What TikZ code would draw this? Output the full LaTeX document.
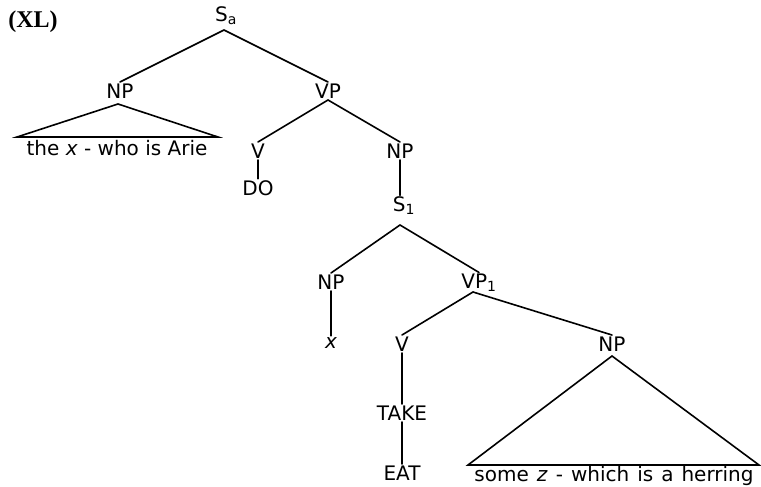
\documentclass[tikz,border=0pt]{standalone}
\usepackage{fontspec}
\setmainfont{Liberation Serif}
\setsansfont{DejaVu Sans}
\begin{document}
\begin{tikzpicture}[x=1pt,y=-1pt,
  lbl/.style={font=\sffamily\fontsize{20}{20}\selectfont, inner sep=1.5pt},
  edge/.style={line width=1.6pt, line cap=round},
  xl/.style={font=\rmfamily\bfseries\fontsize{24}{24}\selectfont, inner sep=0pt}]
\useasboundingbox (0,0) rectangle (761,487);
\node[xl] (XL) at (33,22) {(XL)};
\node[lbl] (Sa) at (226,16) {S\textsubscript{a}};
\node[lbl] (NPa) at (120,91) {NP};
\node[lbl] (VP) at (328,91) {VP};
\coordinate (t1a) at (118,104);
\coordinate (t1l) at (17,137);
\coordinate (t1r) at (218,137);
\node[lbl] (t1txt) at (117,148) {the \textit{x} - who is Arie};
\node[lbl] (V1) at (258,151) {V};
\node[lbl] (DO) at (258,188) {DO};
\node[lbl] (NPb) at (400,151) {NP};
\node[lbl] (S1) at (404,206) {S\textsubscript{1}};
\node[lbl] (NPc) at (331,282) {NP};
\node[lbl] (xx) at (331,343) {\textit{x}};
\node[lbl] (VP1) at (479,283) {VP\textsubscript{1}};
\node[lbl] (V2) at (402,344) {V};
\node[lbl] (TAKE) at (402,413) {TAKE};
\node[lbl] (EAT) at (402,473) {EAT};
\node[lbl] (NPd) at (612,344) {NP};
\coordinate (t2a) at (612,356);
\coordinate (t2l) at (468,465);
\coordinate (t2r) at (759,465);
\node[lbl] (t2txt) at (614,476) {\spaceskip=8pt some \textit{z} - which is a herring};

\draw[edge] (224,30) -- (NPa.north);
\draw[edge] (224,30) -- (VP.north);
\draw[edge] (t1l) -- (t1a) -- (t1r) -- cycle;
\draw[edge] (VP.south) -- (V1.north);
\draw[edge] (VP.south) -- (NPb.north);
\draw[edge] (V1.south) -- (DO.north);
\draw[edge] (NPb.south) -- (NPb.south |- S1.north);
\draw[edge] (400,225) -- (NPc.north);
\draw[edge] (400,225) -- (VP1.north);
\draw[edge] (NPc.south) -- (xx.north);
\draw[edge] (473,292) -- (V2.north);
\draw[edge] (473,292) -- (NPd.north);
\draw[edge] (V2.south) -- (TAKE.north);
\draw[edge] (TAKE.south) -- (EAT.north);
\draw[edge] (t2l) -- (t2a) -- (t2r) -- cycle;
\end{tikzpicture}
\end{document}
